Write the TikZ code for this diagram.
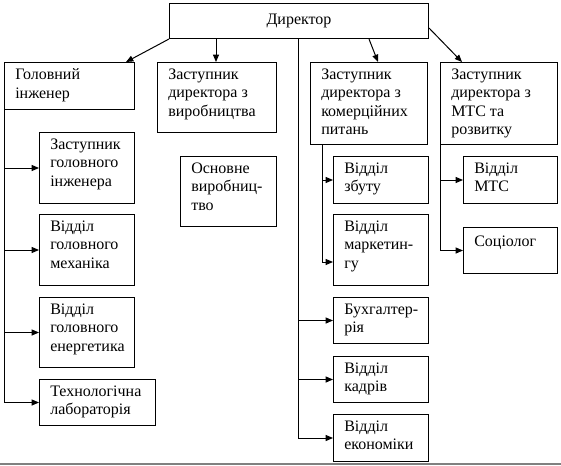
\documentclass[tikz,border=0pt]{standalone}
\usepackage{fontspec}
\setmainfont{LiberationSerif}[Extension=.ttf,UprightFont=*-Regular,BoldFont=*-Bold]
\usetikzlibrary{arrows.meta,calc}
\newcommand\bx[6]{%
  \node[box,minimum width={(#4-#2)*0.75pt},minimum height={(#5-#3)*0.75pt}] (#1) at (#2,#3) {};
  \node[txt] (#1-t) at ($(#1.north west)+(11,6.6)$) {#6};}
\begin{document}
\begin{tikzpicture}[x=0.75pt,y=-0.75pt,
  box/.style={draw,line width=0.75pt,inner sep=0pt,anchor=north west},
  txt/.style={anchor=north west,inner sep=0pt,align=left,font=\rmfamily\fontsize{12}{13.8}\selectfont,execute at begin node=\strut},
  arr/.style={-{Triangle[length=5.5pt,width=4.5pt]},line width=0.75pt},
  ln/.style={line width=0.75pt}]
\useasboundingbox (0,0) rectangle (561,465);
% director
\node[box,minimum width={259*0.75pt},minimum height={35*0.75pt}] (dir) at (169,3) {};
\node[font=\rmfamily\fontsize{12}{13.8}\selectfont,inner sep=0pt] (dir-t) at (dir.center) {Директор};
% level 1
\bx{gi}{4}{62}{134}{109}{Головний\\інженер}
\bx{zv}{157}{62}{276}{132}{Заступник\\директора з\\виробництва}
\bx{zk}{310}{62}{427}{144}{Заступник\\директора з\\комерційних\\питань}
\bx{zm}{440}{62}{557}{144}{Заступник\\директора з\\МТС та\\розвитку}
% left column
\bx{zgi}{39}{132}{134}{203}{Заступник\\головного\\інженера}
\bx{vgm}{39}{214}{134}{285}{Відділ\\головного\\механіка}
\bx{vge}{39}{297}{134}{367}{Відділ\\головного\\енергетика}
\bx{tl}{39}{379}{155}{425}{Технологічна\\лабораторія}
% production
\bx{ov}{180}{156}{276}{226}{Основне\\виробниц-\\тво}
% commercial
\bx{vz}{333}{156}{428}{203}{Відділ\\збуту}
\bx{vmk}{333}{214}{428}{285}{Відділ\\маркетин-\\гу}
\bx{bh}{333}{297}{428}{343}{Бухгалтер-\\рія}
\bx{vk}{333}{356}{428}{402}{Відділ\\кадрів}
\bx{ve}{333}{414}{428}{461}{Відділ\\економіки}
% MTS
\bx{vmts}{463}{156}{557}{203}{Відділ\\МТС}
\bx{soc}{463}{227}{557}{273}{Соціолог}
% connectors from director
\draw[arr] (dir.south west) -- ($(gi.north east)+(-9,0)$);
\draw[arr] ($(dir.south west)+(47,0)$) -- ($(zv.north west)+(59,0)$);
\draw[arr] ($(dir.south west)+(200,0)$) -- ($(zk.north west)+(68,0)$);
\draw[arr] ($(dir.north east)+(0,25)$) -- ($(zm.north west)+(22,0)$);
\coordinate (m) at ($(dir.south west)+(129,0)$);
\draw[arr] (m) |- (ve.west);
\draw[arr] (m |- bh.west) -- (bh.west);
\draw[arr] (m |- vk.west) -- (vk.west);
% chief engineer
\draw[arr] (gi.south west) |- (tl.west);
\draw[arr] (gi.south west |- zgi.west) -- (zgi.west);
\draw[arr] (gi.south west |- vgm.west) -- (vgm.west);
\draw[arr] (gi.south west |- vge.west) -- (vge.west);
% commercial
\coordinate (k) at ($(zk.south west)+(12,0)$);
\draw[arr] (k) |- ($(vmk.south west)+(0,-24)$);
\draw[arr] (k |- vz.west) -- (vz.west);
% MTS
\draw[arr] (zm.south west) |- (soc.west);
\draw[arr] (zm.south west |- vmts.west) -- (vmts.west);
% bottom border line
\draw[gray,line width=1.5pt] (0,463.5) -- (561,463.5);
\end{tikzpicture}
\end{document}
